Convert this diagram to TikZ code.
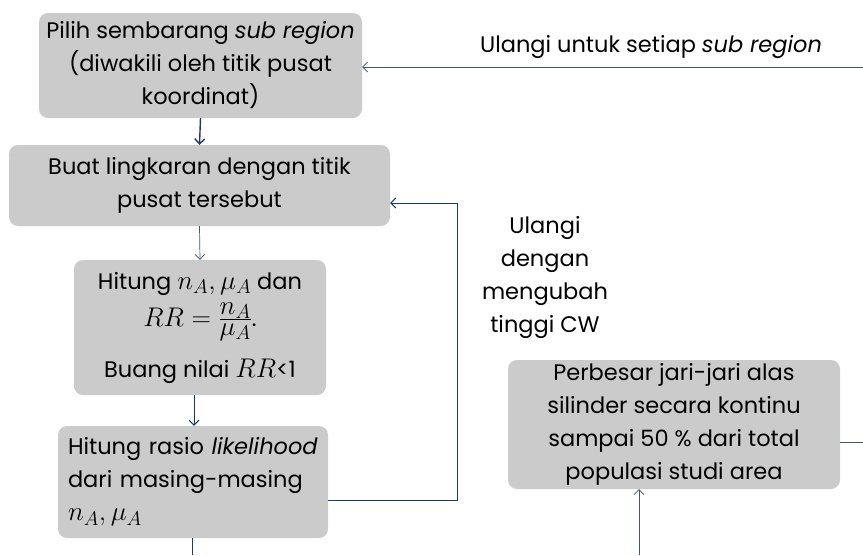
\RequirePackage{fix-cm}
\documentclass[tikz,border=0pt]{standalone}
\usepackage{fontspec}
\setmainfont{Poppins}
\DeclareMathSizes{22.5}{27}{20}{15}
\usetikzlibrary{positioning,arrows.meta}
\definecolor{boxgray}{HTML}{CBCBCB}
\definecolor{navy}{HTML}{1F3864}
\definecolor{slate}{HTML}{44546A}

\begin{document}
\begin{tikzpicture}[x=1pt,y=-1pt,-{Straight Barb[length=5pt,width=10pt]},thin,
  step box/.style={rectangle,rounded corners=9pt,fill=boxgray,inner sep=0pt,
    align=center,font=\fontsize{22.5}{33}\selectfont},
  note/.style={align=center,font=\fontsize{22.5}{33}\selectfont},
  main arrow/.style={draw=navy,line width=1pt},
  back arrow/.style={draw=slate,line width=0.7pt}]

  \useasboundingbox (0,0) rectangle (863,555);

  \node[step box,minimum width=323,minimum height=105] (pilih) at (200.5,65.5)
    {Pilih sembarang \textit{sub region}\\(diwakili oleh titik pusat\\koordinat)};
  \node[step box,minimum width=381,minimum height=81] (buat) at (199.5,185.5)
    {Buat lingkaran dengan titik\\pusat tersebut};
  \node[step box,minimum width=252,minimum height=135] (hitung) at (200,327.5)
    {Hitung $n_A,\mu_A$ dan\\[4pt]$RR=\frac{\textstyle n_A}{\textstyle\mu_A}$.\\[17pt]Buang nilai $RR$<1};
  \node[step box,minimum height=112,text width=250,inner xsep=10,align=left] (rasio) at (193,482)
    {Hitung rasio \textit{likelihood}\\dari masing-masing\\$n_A,\mu_A$};
  \node[step box,minimum width=332,minimum height=129] (besar) at (674,424.5)
    {Perbesar jari-jari alas\\silinder secara kontinu\\sampai 50 \% dari total\\populasi studi area};

  \node[note] (ulangsub) at (651,47) {Ulangi untuk setiap \textit{sub region}};
  \node[note] (ulangcw) at (545,277) {Ulangi\\dengan\\mengubah\\tinggi CW};

  \coordinate (kanan atas) at (863,67);
  \coordinate (kanan bawah) at (863,442);
  \coordinate (putar) at (457,203);
  \coordinate (bawah kiri) at (192,555);
  \coordinate (bawah kanan) at (639,555);

  % alur utama
  \draw[main arrow,line width=1.4pt] (pilih.south) -- (buat.north);
  \draw[back arrow] (buat.south) -- (hitung.north);
  \draw[main arrow] ([xshift=-6]hitung.south) -- ([xshift=-6]hitung.south |- rasio.north);
  \draw[main arrow,-] (rasio.south -| bawah kiri) -- (bawah kiri);

  % perulangan
  \draw[main arrow] ([yshift=-18]rasio.east) -| (putar) -- (putar -| buat.east);
  \draw[back arrow] (kanan atas) -- (kanan atas -| pilih.east);
  \draw[back arrow,-] (kanan bawah -| besar.east) -- (kanan bawah);
  \draw[back arrow] (bawah kanan) -- (bawah kanan |- besar.south);

\end{tikzpicture}
\end{document}
